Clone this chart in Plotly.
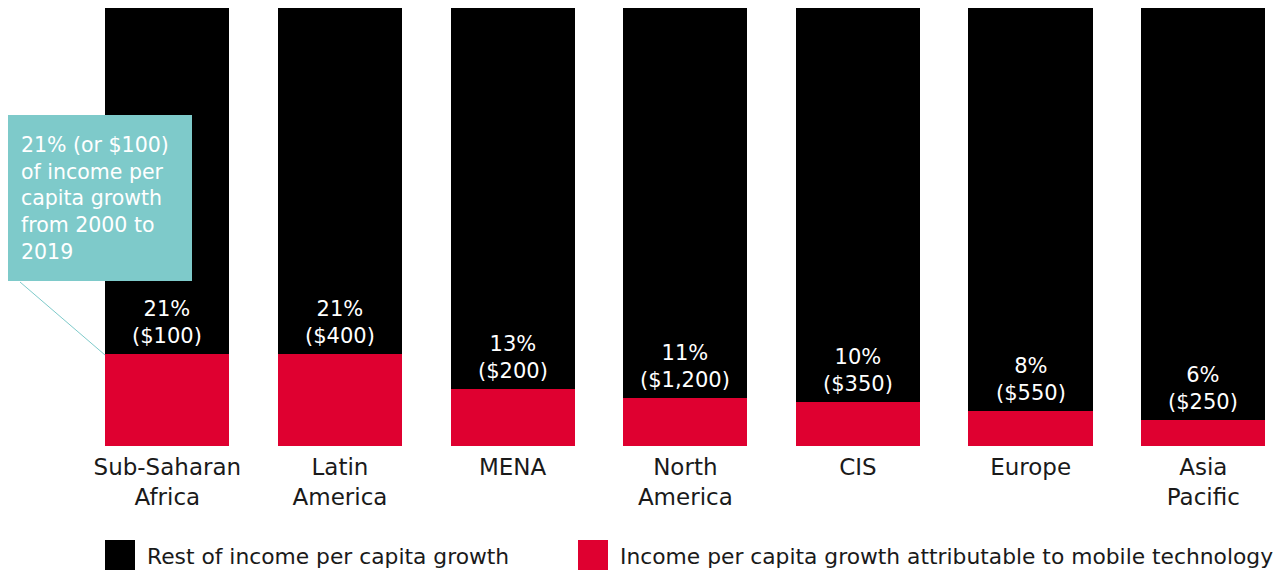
import plotly.graph_objects as go

# Data
regions = ["Sub-Saharan<br>Africa", "Latin<br>America", "MENA", "North<br>America",
           "CIS", "Europe", "Asia<br>Pacific"]
mobile_share = [21, 21, 13, 11, 10, 8, 6]
mobile_usd = ["$100", "$400", "$200", "$1,200", "$350", "$550", "$250"]
rest_share = [100 - v for v in mobile_share]

RED = "#DF0030"
BLACK = "#000000"
TEAL = "#7ECACA"
FONT = "DejaVu Sans"

# page has an 8px body margin, so the figure is shrunk by that much
OFF = 8
FW, FH = 1287 - OFF, 572 - OFF
# plot area in page pixels
PL, PT, W, H = 81, 8, 1200, 438
L, T = PL - OFF, PT - OFF


def px(x):
    return (x - PL) / W


def py(y):
    return 1 - (y - PT) / H


fig = go.Figure()
fig.add_trace(go.Bar(
    x=regions, y=mobile_share, marker=dict(color=RED, line=dict(width=0)),
    name="Income per capita growth attributable to mobile technology",
    hoverinfo="skip",
))
fig.add_trace(go.Bar(
    x=regions, y=rest_share, marker=dict(color=BLACK, line=dict(width=0)),
    name="Rest of income per capita growth",
    hoverinfo="skip",
))

# value labels sitting just above the red segment
for r, v, usd in zip(regions, mobile_share, mobile_usd):
    fig.add_annotation(
        x=r, y=v, text=f"{v}%<br>({usd})", showarrow=False,
        yanchor="bottom", yshift=4,
        font=dict(color="white", size=21, family=FONT),
    )

# callout box for Sub-Saharan Africa
fig.add_shape(type="line", xref="paper", yref="paper",
              x0=px(20), y0=py(282), x1=px(105), y1=py(355),
              line=dict(color=TEAL, width=1))
fig.add_shape(type="rect", xref="paper", yref="paper",
              x0=px(8), y0=py(281), x1=px(192), y1=py(115),
              fillcolor=TEAL, line=dict(width=0), layer="above")
fig.add_annotation(
    xref="paper", yref="paper", x=px(19), y=py(131),
    xanchor="left", yanchor="top", align="left", showarrow=False,
    text="21% (or $100)<br>of income per<br>capita growth<br>from 2000 to<br>2019",
    font=dict(color="white", size=20.5, family=FONT),
)

# legend drawn by hand to match the large swatches
legend_items = [(105, BLACK, "Rest of income per capita growth"),
                (578, RED, "Income per capita growth attributable to mobile technology")]
for x0, col, label in legend_items:
    fig.add_shape(type="rect", xref="paper", yref="paper",
                  x0=px(x0), x1=px(x0 + 30), y0=py(570), y1=py(540),
                  fillcolor=col, line=dict(width=0))
    fig.add_annotation(xref="paper", yref="paper", x=px(x0 + 40), y=py(556),
                       xanchor="left", yanchor="middle", showarrow=False,
                       text=label, font=dict(color="#1a1a1a", size=21.8, family=FONT))

fig.update_layout(
    barmode="stack",
    bargap=0.28,
    width=FW, height=FH,
    margin=dict(l=L, r=FW - L - W, t=T, b=FH - T - H),
    paper_bgcolor="white", plot_bgcolor="white",
    showlegend=False,
    font=dict(family=FONT, color="#1a1a1a"),
    xaxis=dict(range=[-0.5, 6.45], showgrid=False, zeroline=False, showline=False,
               ticks="", ticklabelstandoff=5,
               tickfont=dict(size=23, color="#1a1a1a")),
    yaxis=dict(range=[0, 100], visible=False),
)

fig.write_html("out.html")
